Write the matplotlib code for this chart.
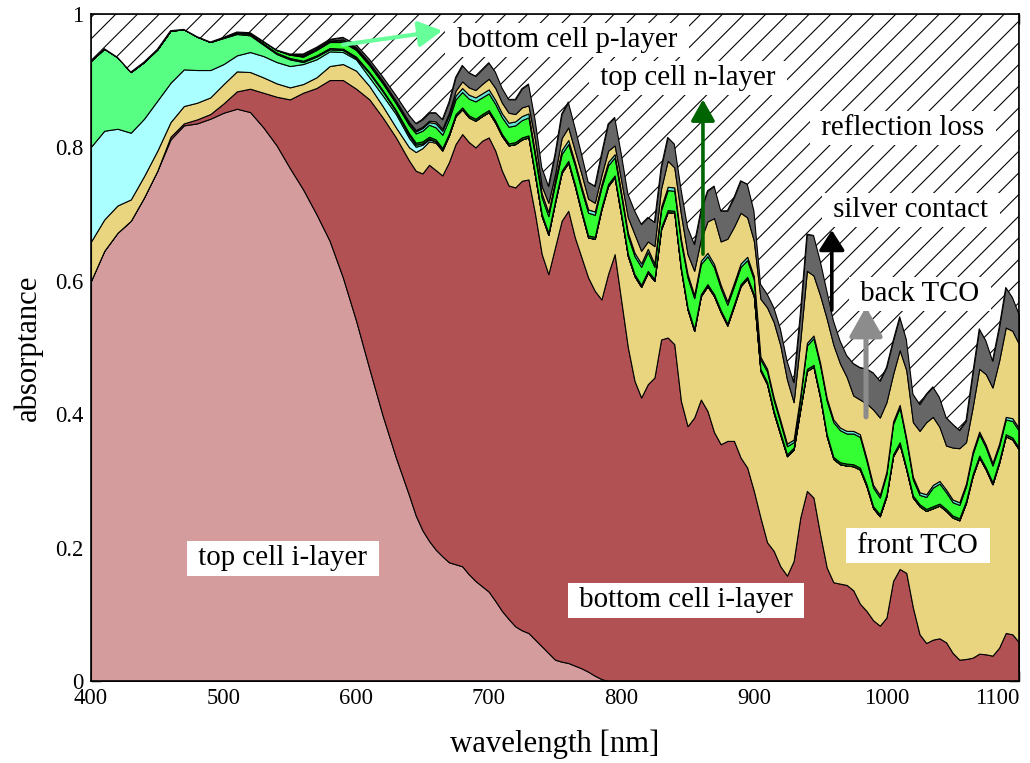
import numpy as np
import matplotlib
matplotlib.use("Agg")
import matplotlib.pyplot as plt
from matplotlib.ticker import MultipleLocator, FuncFormatter

plt.rcParams['font.family'] = ['Liberation Serif', 'DejaVu Serif']
plt.rcParams['hatch.linewidth'] = 0.6
plt.rcParams['hatch.color'] = 'black'

# wavelength grid [nm]: 10 nm steps in the smooth blue part, 5 nm in the red/IR part
wavelength = np.concatenate([np.arange(400, 640, 10), np.arange(640, 1101, 5)])

# absorptance of each layer, stacked from the bottom up
top_i_layer = [
    0.600, 0.645, 0.672, 0.690, 0.725, 0.765, 0.812, 0.833, 0.836, 0.843,
    0.852, 0.858, 0.853, 0.830, 0.803, 0.769, 0.737, 0.700, 0.660, 0.605,
    0.540, 0.468, 0.398, 0.335,
    0.278, 0.248, 0.226, 0.210, 0.197, 0.187, 0.178, 0.175, 0.172, 0.160,
    0.150, 0.142, 0.134, 0.120, 0.105, 0.093, 0.082, 0.076, 0.072, 0.062,
    0.052, 0.042, 0.032, 0.029, 0.027, 0.023, 0.019, 0.014, 0.008, 0.003,
    0, 0, 0, 0, 0, 0, 0, 0, 0, 0,
    0, 0, 0, 0, 0, 0, 0, 0, 0, 0,
    0, 0, 0, 0, 0, 0, 0, 0, 0, 0,
    0, 0, 0, 0, 0, 0, 0, 0, 0, 0,
    0, 0, 0, 0, 0, 0, 0, 0, 0, 0,
    0, 0, 0, 0, 0, 0, 0, 0, 0, 0,
    0, 0, 0,
]

bottom_i_layer = [
    0, 0, 0, 0, 0, 0, 0.004, 0.003, 0.006, 0.007,
    0.014, 0.026, 0.035, 0.052, 0.073, 0.103, 0.145, 0.189, 0.241, 0.296,
    0.348, 0.404, 0.447, 0.480,
    0.502, 0.517, 0.535, 0.564, 0.569, 0.571, 0.600, 0.630, 0.648, 0.648,
    0.650, 0.668, 0.681, 0.675, 0.660, 0.650, 0.658, 0.674, 0.680, 0.638,
    0.588, 0.568, 0.618, 0.661, 0.678, 0.642, 0.616, 0.591, 0.577, 0.569,
    0.610, 0.640, 0.570, 0.500, 0.450, 0.425, 0.445, 0.455, 0.512, 0.515,
    0.505, 0.420, 0.382, 0.395, 0.422, 0.405, 0.373, 0.355, 0.360, 0.360,
    0.335, 0.320, 0.285, 0.245, 0.208, 0.195, 0.172, 0.158, 0.180, 0.245,
    0.285, 0.275, 0.220, 0.170, 0.148, 0.146, 0.144, 0.136, 0.116, 0.105,
    0.091, 0.083, 0.095, 0.150, 0.168, 0.162, 0.110, 0.070, 0.057, 0.062,
    0.064, 0.058, 0.042, 0.032, 0.033, 0.035, 0.041, 0.040, 0.038, 0.050,
    0.072, 0.070, 0.058,
]

front_tco = [
    0.059, 0.047, 0.041, 0.032, 0.032, 0.030, 0.022, 0.026, 0.025, 0.025,
    0.029, 0.030, 0.025, 0.023, 0.020, 0.018, 0.013, 0.016, 0.021, 0.024,
    0.027, 0.020, 0.017, 0.015,
    0.020, 0.028, 0.038, 0.035, 0.041, 0.037, 0.040, 0.042, 0.037, 0.037,
    0.040, 0.037, 0.038, 0.042, 0.052, 0.060, 0.065, 0.062, 0.063, 0.057,
    0.057, 0.059, 0.067, 0.072, 0.072, 0.077, 0.067, 0.060, 0.078, 0.135,
    0.132, 0.115, 0.127, 0.137, 0.157, 0.166, 0.167, 0.145, 0.165, 0.188,
    0.197, 0.197, 0.175, 0.130, 0.155, 0.187, 0.204, 0.198, 0.173, 0.202,
    0.257, 0.283, 0.292, 0.220, 0.237, 0.207, 0.197, 0.179, 0.167, 0.162,
    0.180, 0.196, 0.205, 0.197, 0.185, 0.179, 0.179, 0.186, 0.201, 0.187,
    0.168, 0.164, 0.182, 0.187, 0.187, 0.155, 0.165, 0.192, 0.198, 0.197,
    0.199, 0.197, 0.203, 0.209, 0.234, 0.272, 0.294, 0.277, 0.257, 0.277,
    0.295, 0.292, 0.289,
]

top_p_layer = [
    0.142, 0.133, 0.115, 0.100, 0.086, 0.075, 0.059, 0.055, 0.049, 0.041,
    0.030, 0.024, 0.030, 0.032, 0.032, 0.032, 0.030, 0.027, 0.022, 0.018,
    0.017, 0.013, 0.016, 0.020,
    0.014, 0.008, 0.005, 0.003, 0.002, 0.001, 0, 0, 0, 0,
    0, 0, 0, 0, 0, 0, 0, 0, 0, 0,
    0, 0, 0, 0, 0, 0, 0, 0, 0, 0,
    0, 0, 0, 0, 0, 0, 0, 0, 0, 0,
    0, 0, 0, 0, 0, 0, 0, 0, 0, 0,
    0, 0, 0, 0, 0, 0, 0, 0, 0, 0,
    0, 0, 0, 0, 0, 0, 0, 0, 0, 0,
    0, 0, 0, 0, 0, 0, 0, 0, 0, 0,
    0, 0, 0, 0, 0, 0, 0, 0, 0, 0,
    0, 0, 0,
]

bottom_p_layer = [
    0.129, 0.123, 0.107, 0.091, 0.085, 0.077, 0.078, 0.060, 0.050, 0.042,
    0.039, 0.032, 0.025, 0.017, 0.012, 0.010, 0.003, 0.004, 0.003, 0.003,
    0.002, 0.006, 0.006, 0.004,
    0.004, 0.003, 0.002, 0.001, 0, 0, 0, 0, 0, 0,
    0, 0, 0, 0, 0, 0, 0, 0, 0, 0,
    0, 0, 0, 0, 0, 0, 0, 0, 0, 0,
    0, 0, 0, 0, 0, 0, 0, 0, 0, 0,
    0, 0, 0, 0, 0, 0, 0, 0, 0, 0,
    0, 0, 0, 0, 0, 0, 0, 0, 0, 0,
    0, 0, 0, 0, 0, 0, 0, 0, 0, 0,
    0, 0, 0, 0, 0, 0, 0, 0, 0, 0,
    0, 0, 0, 0, 0, 0, 0, 0, 0, 0,
    0, 0, 0,
]

top_n_layer = [
    0, 0, 0, 0, 0, 0, 0, 0, 0, 0,
    0.001, 0.002, 0.002, 0.002, 0.002, 0.002, 0.002, 0.002, 0.002, 0.002,
    0.002, 0.002, 0.002, 0.002,
    0.003, 0.003, 0.003, 0.003, 0.003, 0.003, 0.003, 0.003, 0.003, 0.003,
    0.003, 0.003, 0.003, 0.003, 0.003, 0.003, 0.003, 0.003, 0.003, 0.003,
    0.003, 0.003, 0.003, 0.003, 0.003, 0.003, 0.003, 0.003, 0.003, 0.003,
    0.003, 0.003, 0.003, 0.003, 0.003, 0.003, 0.003, 0.003, 0.003, 0.003,
    0.003, 0.003, 0.003, 0.003, 0.003, 0.003, 0.003, 0.003, 0.003, 0.003,
    0.003, 0.003, 0.003, 0.003, 0.003, 0.003, 0.003, 0.003, 0.003, 0.003,
    0.003, 0.003, 0.003, 0.003, 0.003, 0.003, 0.003, 0.003, 0.003, 0.003,
    0.003, 0.003, 0.003, 0.003, 0.003, 0.003, 0.003, 0.003, 0.003, 0.003,
    0.003, 0.003, 0.003, 0.003, 0.003, 0.003, 0.003, 0.003, 0.003, 0.003,
    0.003, 0.003, 0.003,
]

bottom_n_layer = [
    0, 0, 0, 0, 0, 0, 0, 0, 0, 0,
    0, 0.001, 0.002, 0.003, 0.004, 0.005, 0.006, 0.008, 0.009, 0.010,
    0.010, 0.010, 0.010, 0.010,
    0.012, 0.014, 0.016, 0.018, 0.018, 0.020, 0.021, 0.022, 0.023, 0.025,
    0.026, 0.025, 0.025, 0.025, 0.025, 0.025, 0.025, 0.026, 0.027, 0.026,
    0.025, 0.025, 0.025, 0.025, 0.025, 0.028, 0.031, 0.034, 0.033, 0.030,
    0.028, 0.027, 0.027, 0.027, 0.027, 0.027, 0.028, 0.018, 0.026, 0.030,
    0.030, 0.038, 0.045, 0.046, 0.045, 0.042, 0.040, 0.033, 0.028, 0.027,
    0.026, 0.025, 0.022, 0.014, 0.016, 0.016, 0.015, 0.012, 0.008, 0.014,
    0.035, 0.040, 0.045, 0.050, 0.052, 0.048, 0.045, 0.046, 0.046, 0.035,
    0.028, 0.025, 0.030, 0.045, 0.052, 0.040, 0.024, 0.014, 0.018, 0.028,
    0.030, 0.025, 0.020, 0.020, 0.022, 0.030, 0.032, 0.030, 0.025, 0.022,
    0.022, 0.025, 0.025,
]

interlayer = [
    0, 0, 0, 0, 0, 0, 0, 0, 0, 0,
    0, 0, 0, 0, 0, 0, 0.002, 0.002, 0.002, 0.002,
    0.002, 0.002, 0.002, 0.002,
    0.003, 0.003, 0.004, 0.004, 0.006, 0.006, 0.006, 0.006, 0.006, 0.006,
    0.006, 0.006, 0.006, 0.006, 0.006, 0.006, 0.006, 0.006, 0.006, 0.006,
    0.006, 0.006, 0.006, 0.006, 0.006, 0.005, 0.005, 0.005, 0.005, 0.005,
    0.005, 0.005, 0.005, 0.005, 0.005, 0.005, 0.005, 0.005, 0.005, 0.005,
    0.005, 0.005, 0.005, 0.005, 0.005, 0.005, 0.005, 0.005, 0.005, 0.005,
    0.005, 0.005, 0.005, 0.004, 0.004, 0.004, 0.004, 0.004, 0.004, 0.004,
    0.004, 0.004, 0.004, 0.004, 0.004, 0.004, 0.004, 0.004, 0.004, 0.004,
    0.004, 0.004, 0.004, 0.004, 0.004, 0.004, 0.004, 0.004, 0.004, 0.004,
    0.004, 0.004, 0.004, 0.004, 0.004, 0.004, 0.004, 0.004, 0.004, 0.004,
    0.004, 0.004, 0.004,
]

back_tco = [
    0, 0, 0, 0, 0, 0, 0, 0, 0, 0,
    0, 0, 0, 0, 0, 0, 0, 0, 0, 0.002,
    0.002, 0.002, 0.002, 0.002,
    0.002, 0.002, 0.002, 0.002, 0.003, 0.003, 0.004, 0.007, 0.010, 0.011,
    0.011, 0.014, 0.016, 0.018, 0.016, 0.015, 0.011, 0.013, 0.012, 0.019,
    0.011, 0.014, 0.009, 0.018, 0.019, 0.017, 0.019, 0.016, 0.013, 0.013,
    0.017, 0.013, 0.018, 0.023, 0.028, 0.019, 0.011, 0.026, 0.027, 0.039,
    0.030, 0.037, 0.030, 0.036, 0.032, 0.047, 0.069, 0.065, 0.094, 0.084,
    0.076, 0.059, 0.053, 0.087, 0.092, 0.113, 0.112, 0.096, 0.056, 0.082,
    0.108, 0.090, 0.101, 0.119, 0.112, 0.096, 0.081, 0.053, 0.052, 0.082,
    0.113, 0.116, 0.104, 0.071, 0.082, 0.102, 0.082, 0.092, 0.108, 0.102,
    0.081, 0.066, 0.078, 0.081, 0.062, 0.066, 0.094, 0.106, 0.113, 0.124,
    0.134, 0.131, 0.126,
]

silver_contact = [
    0, 0, 0, 0, 0, 0, 0, 0, 0, 0,
    0, 0, 0, 0, 0, 0.001, 0.002, 0.002, 0.002, 0.003,
    0.004, 0.005, 0.006, 0.008,
    0.010, 0.010, 0.011, 0.012, 0.013, 0.014, 0.016, 0.020, 0.024, 0.022,
    0.021, 0.022, 0.024, 0.024, 0.022, 0.020, 0.022, 0.028, 0.032, 0.030,
    0.028, 0.025, 0.030, 0.036, 0.038, 0.035, 0.030, 0.025, 0.025, 0.032,
    0.040, 0.042, 0.040, 0.035, 0.035, 0.040, 0.036, 0.036, 0.032, 0.035,
    0.035, 0.038, 0.040, 0.040, 0.043, 0.046, 0.048, 0.046, 0.042, 0.044,
    0.048, 0.050, 0.045, 0.022, 0.020, 0.022, 0.025, 0.028, 0.030, 0.040,
    0.055, 0.060, 0.052, 0.042, 0.036, 0.034, 0.032, 0.048, 0.048, 0.052,
    0.055, 0.055, 0.052, 0.050, 0.050, 0.046, 0.042, 0.040, 0.042, 0.045,
    0.044, 0.042, 0.035, 0.027, 0.032, 0.050, 0.060, 0.050, 0.040, 0.050,
    0.060, 0.050, 0.045,
]

layers = [
    (top_i_layer, '#d49c9c'),
    (bottom_i_layer, '#b25153'),
    (front_tco, '#e9d57f'),
    (top_p_layer, '#aaffff'),
    (bottom_p_layer, '#57ff82'),
    (top_n_layer, '#118811'),
    (bottom_n_layer, '#33ff33'),
    (interlayer, '#66e8d4'),
    (back_tco, '#e9d57f'),
    (silver_contact, '#666666'),
]

x_ticks = [400, 500, 600, 700, 800, 900, 1000, 1100]

DPI = 130
fig = plt.figure(figsize=(1030 / DPI, 763 / DPI), dpi=DPI)
ax = fig.add_axes([91 / 1030, 1 - 681 / 763, 928 / 1030, 667 / 763])

lower = np.zeros(len(wavelength))
for values, color in layers:
    upper = lower + np.asarray(values, dtype=float)
    ax.fill_between(wavelength, lower, upper, facecolor=color,
                    edgecolor='black', linewidth=0.6, zorder=2)
    lower = upper

# everything not absorbed is reflected
ax.fill_between(wavelength, lower, 1.0, facecolor='white', edgecolor='black',
                hatch='//', linewidth=0.6, zorder=2)

ax.set_xlim(400, 1100)
ax.set_ylim(0, 1)
ax.set_xticks(x_ticks, labels=[str(t) for t in x_ticks])
ax.xaxis.set_minor_locator(MultipleLocator(50))
ax.yaxis.set_major_locator(MultipleLocator(0.2))
ax.yaxis.set_minor_locator(MultipleLocator(0.05))
ax.yaxis.set_major_formatter(FuncFormatter(lambda v, _: f'{v:g}'))
ax.tick_params(which='both', direction='in', top=True, right=True)
ax.tick_params(which='major', length=5.5, width=0.8, labelsize=12.5, pad=4)
ax.tick_params(which='minor', length=3.2, width=0.7)
# keep the last wavelength label inside the figure
ax.get_xticklabels()[-1].set_horizontalalignment('right')
for spine in ax.spines.values():
    spine.set_linewidth(0.9)
    spine.set_zorder(5)

ax.set_xlabel('wavelength [nm]', fontsize=17, labelpad=11)
ax.set_ylabel('absorptance', fontsize=17, labelpad=7)


def arrow(tail, tip, color, lw, head_w, head_l):
    ax.annotate('', xy=tip, xytext=tail, zorder=6,
                arrowprops=dict(arrowstyle=f'-|>,head_length={head_l},head_width={head_w}',
                                color=color, lw=lw, shrinkA=0, shrinkB=0,
                                mutation_scale=20))


arrow((590, 0.954), (665, 0.975), '#66ff99', 2.3, 0.30, 0.55)
arrow((861.6, 0.640), (861.6, 0.872), '#006400', 2.0, 0.28, 0.50)
arrow((958.8, 0.556), (958.8, 0.676), 'black', 2.0, 0.30, 0.47)
arrow((984.6, 0.396), (984.6, 0.561), '#8c8c8c', 2.8, 0.39, 0.69)

box = dict(boxstyle='square,pad=0.15', facecolor='white', edgecolor='none')
labels = [
    ('top cell i-layer', 544.8, 0.184),
    ('bottom cell i-layer', 848.8, 0.121),
    ('front TCO', 1023.8, 0.203),
    ('back TCO', 1025.3, 0.580),
    ('silver contact', 1018.5, 0.706),
    ('reflection loss', 1012.5, 0.829),
    ('top cell n-layer', 850.3, 0.904),
    ('bottom cell p-layer', 759.0, 0.961),
]
for text, x, y in labels:
    ax.text(x, y, ' ' + text + ' ', fontsize=16, ha='center', va='center',
            bbox=box, zorder=7)

fig.savefig('out.png', dpi=DPI)
